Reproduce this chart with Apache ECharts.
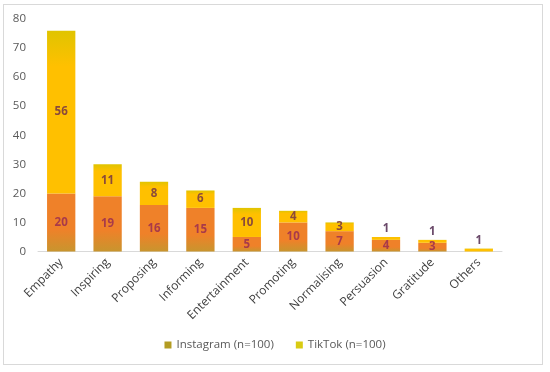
<!DOCTYPE html>
<html><head><meta charset="utf-8">
<script src="https://cdn.jsdelivr.net/npm/echarts@6/dist/echarts.min.js"></script>
<style>html,body{margin:0;padding:0;background:#fff}#c{width:550px;height:372px}
#frame{position:absolute;left:3px;top:4px;width:540px;height:361px;border:1px solid #d9d9d9;box-sizing:border-box;pointer-events:none}</style>
</head><body><div id="c"></div><div id="frame"></div>
<script>
const categories = ['Empathy','Inspiring','Proposing','Informing','Entertainment','Promoting','Normalising','Persuasion','Gratitude','Others'];
const instagram = [20,19,16,15,5,10,7,4,3,0];
const tiktok = [56,11,8,6,10,4,3,1,1,1];
const yTicks = [0,10,20,30,40,50,60,70,80];

const chart = echarts.init(document.getElementById('c'));
const font = '"Open Sans", "Noto Sans", sans-serif';
const igGrad = new echarts.graphic.LinearGradient(0,0,0,1,[
  {offset:0,color:'#EF8129'},{offset:0.62,color:'#EF8129'},{offset:1,color:'#C8952E'}]);
const ttGrad = new echarts.graphic.LinearGradient(0,0,0,1,[
  {offset:0,color:'#E0C400'},{offset:0.22,color:'#FFC000'},{offset:1,color:'#FFC000'}]);

chart.setOption({
  animation:false,
  grid:{left:38,right:48,top:19,bottom:120.5,containLabel:false},
  legend:{
    bottom:16,left:'center',itemWidth:7,itemHeight:7,itemGap:22,icon:'rect',
    textStyle:{color:'#595959',fontSize:11.5,fontFamily:font},
    data:[{name:'Instagram (n=100)',itemStyle:{color:'#B39C22'}},{name:'TikTok (n=100)',itemStyle:{color:'#D9CB12'}}]
  },
  xAxis:{
    type:'category',data:categories,
    axisLine:{lineStyle:{color:'#d9d9d9'}},axisTick:{show:false},
    axisLabel:{rotate:45,color:'#404040',fontSize:12,fontFamily:font,interval:0,margin:9}
  },
  yAxis:{
    type:'value',min:0,max:80,interval:10,
    axisLine:{show:false},axisTick:{show:false},splitLine:{show:false},
    axisLabel:{color:'#595959',fontSize:11.5,fontFamily:font,margin:12,
      formatter:v=>yTicks.includes(v)?String(v):''}
  },
  series:[
    {name:'Instagram (n=100)',type:'bar',stack:'a',barWidth:'61%',
     itemStyle:{color:igGrad},
     label:{show:true,position:'inside',color:'#A83A4A',fontWeight:'bold',fontSize:11.5,fontFamily:font,
       formatter:p=>p.value>0?p.value:''},
     data:instagram},
    {name:'TikTok (n=100)',type:'bar',stack:'a',barWidth:'61%',
     itemStyle:{color:ttGrad},
     label:{show:true,color:'#8A4A3A',fontWeight:'bold',fontSize:11.5,fontFamily:font,
       formatter:p=>p.value>0?p.value:''},
     data:tiktok.map(v=>({value:v,label:{position:v<=1?'top':'inside',color:v<=1?'#6B4A6A':'#8A4A3A',distance:2}}))}
  ]
});
</script></body></html>
